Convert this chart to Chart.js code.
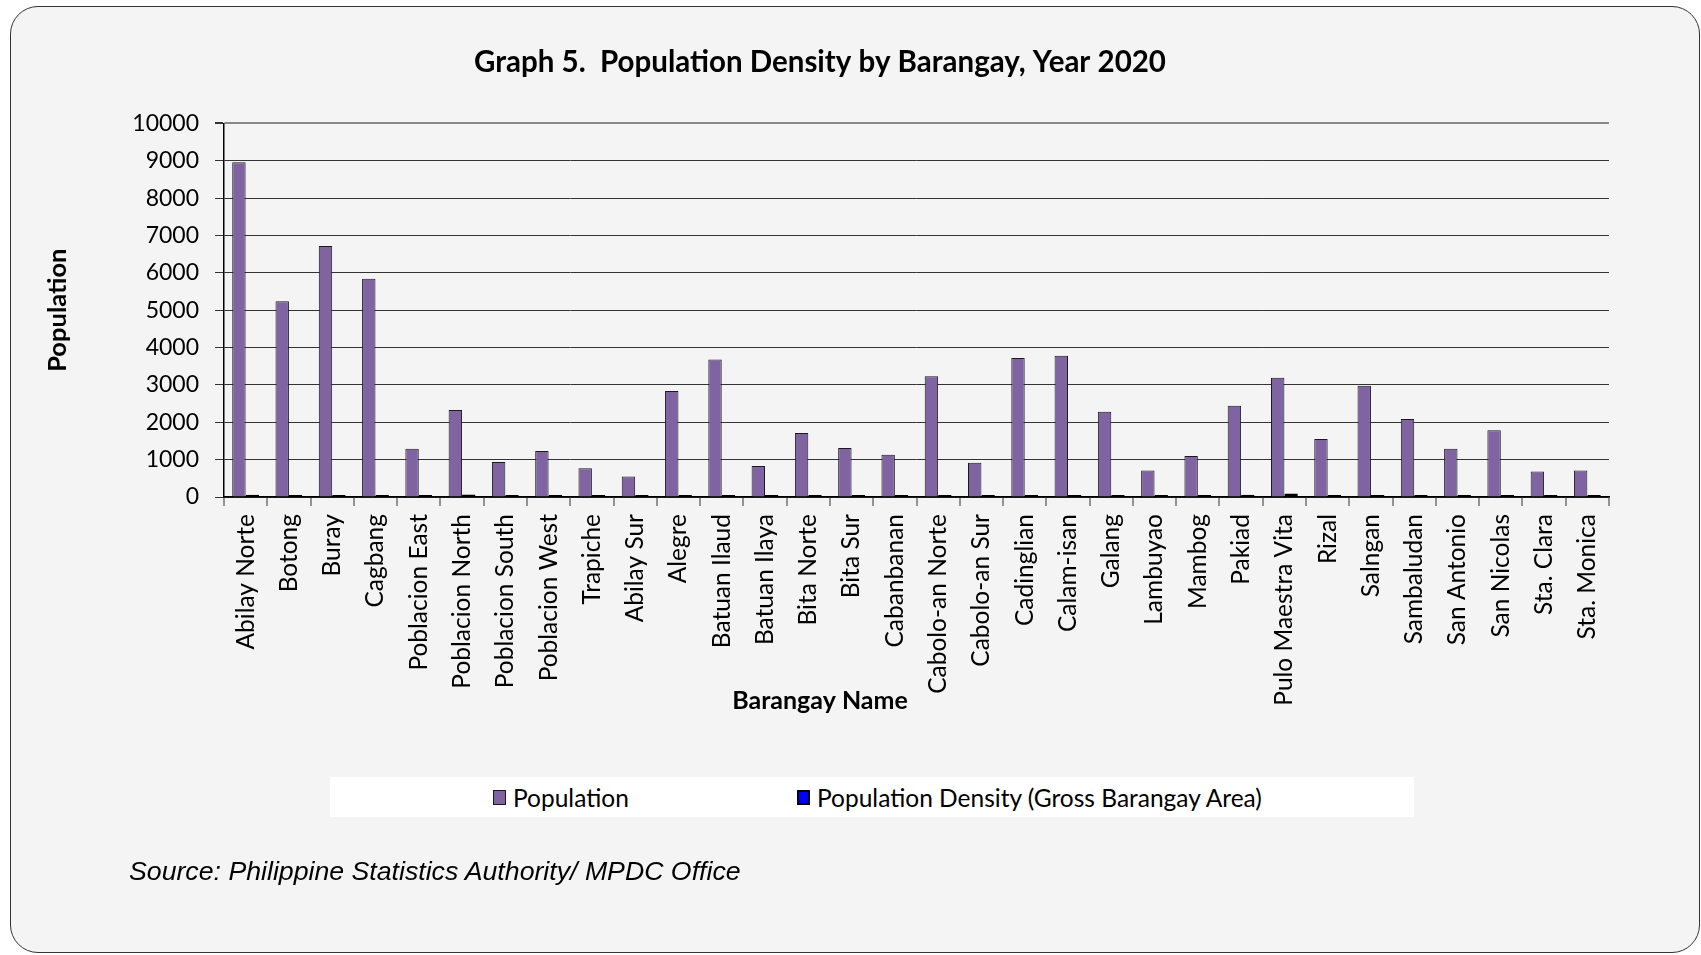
<!DOCTYPE html>
<html>
<head>
<meta charset="utf-8">
<title>Population Density by Barangay, Year 2020</title>
<script src="https://cdn.jsdelivr.net/npm/chart.js@4"></script>
<style>
  html, body { margin: 0; padding: 0; background: #ffffff; }
  #wrap { position: relative; width: 1701px; height: 955px; overflow: hidden; }
  #frame {
    position: absolute; left: 10px; top: 6px; width: 1688px; height: 945px;
    border: 1px solid #333; border-radius: 28px; background: #f4f4f4;
  }
  #myChart { position: absolute; left: 0; top: 0; }
  #legend {
    position: absolute; left: 330px; top: 777px; width: 1084px; height: 40px;
    background: #fff;
  }
  #legend .item {
    position: absolute; top: 0; height: 40px; display: flex; align-items: center;
    font-family: Lato, "Open Sans", sans-serif; font-size: 24.5px; color: #000;
    white-space: nowrap;
  }
  #legend .box { width: 13px; height: 15px; box-sizing: border-box; margin-right: 7px; }
  #source {
    position: absolute; left: 129px; top: 856px;
    font-family: "Liberation Sans", Arial, sans-serif; font-style: italic;
    font-size: 26.7px; color: #000;
  }
</style>
</head>
<body>
<div id="wrap">
  <div id="frame"></div>
  <canvas id="myChart" width="1701" height="955"></canvas>
  <div id="legend"></div>
  <div id="source">Source: Philippine Statistics Authority/ MPDC Office</div>
</div>
<script>
// Data block
const barangays = [
  "Abilay Norte", "Botong", "Buray", "Cagbang", "Poblacion East",
  "Poblacion North", "Poblacion South", "Poblacion West", "Trapiche",
  "Abilay Sur", "Alegre", "Batuan Ilaud", "Batuan Ilaya", "Bita Norte",
  "Bita Sur", "Cabanbanan", "Cabolo-an Norte", "Cabolo-an Sur",
  "Cadinglian", "Calam-isan", "Galang", "Lambuyao", "Mambog", "Pakiad",
  "Pulo Maestra Vita", "Rizal", "Salngan", "Sambaludan", "San Antonio",
  "San Nicolas", "Sta. Clara", "Sta. Monica",
];
const population = [
  8960, 5240, 6720, 5840, 1290, 2330, 940, 1230, 770, 550, 2840, 3680, 830,
  1710, 1310, 1130, 3230, 920, 3720, 3780, 2280, 710, 1100, 2440, 3190, 1550,
  2980, 2090, 1290, 1790, 680, 710,
];
const density = [
  60, 35, 40, 40, 20, 65, 20, 20, 15, 10, 35, 20, 15, 20, 20, 15, 20, 15,
  25, 20, 20, 10, 15, 60, 95, 15, 20, 15, 10, 15, 10, 10,
];
const yTicks = { min: 0, max: 10000, step: 1000 };

const FONT = "Lato, 'Open Sans', sans-serif";
const legendOffsets = [163, 467]; // left of each legend entry inside the white box

function mainChart() {
  const data = {
    labels: barangays,
    datasets: [
      {
        label: "Population",
        data: population,
        backgroundColor: "#8064A2",
        borderColor: "#1a1a1a",
        borderWidth: 1,
        categoryPercentage: 0.62,
        barPercentage: 1,
      },
      {
        label: "Population Density (Gross Barangay Area)",
        data: density,
        backgroundColor: "#0000FF",
        borderColor: "#000000",
        borderWidth: 2,
        borderSkipped: false,
        minBarLength: 2,
        categoryPercentage: 0.62,
        barPercentage: 1,
      },
    ],
  };

  const options = {
    responsive: false,
    animation: false,
    devicePixelRatio: 1,
    layout: {
      padding: { left: 31, right: 92, top: 30, bottom: 208 },
    },
    plugins: {
      title: {
        display: true,
        text: "Graph 5.  Population Density by Barangay, Year 2020",
        color: "#000",
        font: { family: FONT, size: 29.5, weight: "bold" },
        padding: { top: 15, bottom: 43 },
      },
      // x axis title, centred on the whole chart like the original
      subtitle: {
        display: true,
        position: "bottom",
        text: "Barangay Name",
        color: "#000",
        font: { family: FONT, size: 25, weight: "bold" },
        padding: { top: -31, bottom: 31 },
      },
      legend: { display: false },
      tooltip: { enabled: false },
    },
    scales: {
      x: {
        offset: true,
        grid: {
          offset: true,
          drawOnChartArea: true,
          color: (ctx) => (ctx.index === barangays.length ? "#888888" : "rgba(0,0,0,0)"),
          lineWidth: 2,
          tickColor: "#333333",
          tickLength: 9,
          tickWidth: 1,
        },
        border: { color: "#000", width: 1.5 },
        ticks: {
          color: "#000",
          font: { family: FONT, size: 24.5 },
          minRotation: 90,
          maxRotation: 90,
          autoSkip: false,
          padding: 8,
        },
        afterFit(scale) {
          scale.height = 220;
        },
      },
      y: {
        min: yTicks.min,
        max: yTicks.max,
        grid: {
          color: (ctx) => (ctx.tick && ctx.tick.value === yTicks.max ? "#888888" : "#333333"),
          lineWidth: (ctx) => (ctx.tick && ctx.tick.value === yTicks.max ? 2 : 1),
          tickColor: "#333333",
          tickLength: 9,
        },
        border: { color: "#000", width: 1.5 },
        ticks: {
          stepSize: yTicks.step,
          color: "#000",
          font: { family: FONT, size: 23 },
          padding: 16,
          callback: (value) => String(value),
        },
        title: {
          display: true,
          text: "Population",
          color: "#000",
          font: { family: FONT, size: 25.5, weight: "bold" },
          padding: { top: 11, bottom: 0 },
        },
        afterFit(scale) {
          scale.width = 193;
        },
      },
    },
  };

  const config = {
    type: "bar",
    data: data,
    options: options,
  };

  return new Chart(document.getElementById("myChart"), config);
}

// HTML legend built from the chart's own legend items
function buildLegend(chart) {
  const holder = document.getElementById("legend");
  const items = Chart.defaults.plugins.legend.labels.generateLabels(chart);
  items.forEach((it, i) => {
    const el = document.createElement("div");
    el.className = "item";
    el.style.left = legendOffsets[i] + "px";
    const box = document.createElement("span");
    box.className = "box";
    box.style.background = it.fillStyle;
    box.style.border = it.lineWidth + "px solid " + it.strokeStyle;
    const txt = document.createElement("span");
    txt.textContent = it.text;
    el.appendChild(box);
    el.appendChild(txt);
    holder.appendChild(el);
  });
}

const myChart = mainChart();
buildLegend(myChart);
</script>
</body>
</html>
